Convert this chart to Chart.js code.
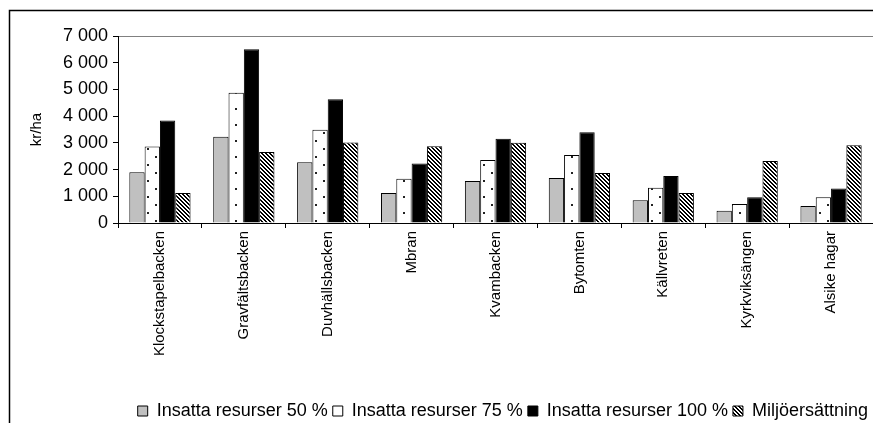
<!DOCTYPE html>
<html><head><meta charset="utf-8">
<script src="https://cdn.jsdelivr.net/npm/chart.js"></script>
<style>html,body{margin:0;padding:0;background:#fff;}#wrap{width:873px;height:423px;position:relative;}</style>
</head><body><div id="wrap"><canvas id="c" width="873" height="423"></canvas></div>
<script>
const categories = ['Klockstapelbacken','Gravfältsbacken','Duvhällsbacken','Mbran','Kvambacken','Bytomten','Källvreten','Kyrkviksängen','Alsike hagar'];
const seriesNames = ['Insatta resurser 50 %','Insatta resurser 75 %','Insatta resurser 100 %','Miljöersättning'];
const values50  = [1900,3230,2270,1120,1570,1680,850,460,640];
const values75  = [2860,4880,3490,1660,2360,2550,1320,715,965];
const values100 = [3840,6500,4630,2230,3150,3400,1760,965,1290];
const valuesEnv = [1120,2660,3010,2870,3000,1870,1120,2320,2910];
const yTickValues = [0,1000,2000,3000,4000,5000,6000,7000];
const yTickLabels = ['0','1 000','2 000','3 000','4 000','5 000','6 000','7 000'];
const yTitle = 'kr/ha';

function dotPattern(){
  const t=document.createElement('canvas'); t.width=16; t.height=16;
  const g=t.getContext('2d'); g.fillStyle='#fff'; g.fillRect(0,0,16,16);
  g.fillStyle='#222'; g.fillRect(3,4,2,2); g.fillRect(11,12,2,2);
  return g.createPattern(t,'repeat');
}
function hatchPattern(){
  const t=document.createElement('canvas'); t.width=4; t.height=4;
  const g=t.getContext('2d'); g.fillStyle='#fff'; g.fillRect(0,0,4,4);
  g.fillStyle='#000';
  for(let i=0;i<4;i++){ g.fillRect(i,i,1,1); g.fillRect((i+1)%4,i,1,1); }
  return g.createPattern(t,'repeat');
}
const ctx0=document.getElementById('c').getContext('2d');
const fills=['#c0c0c0',dotPattern(),'#000',hatchPattern()];
const allValues=[values50,values75,values100,valuesEnv];

const framePlugin={id:'frame',
  beforeDraw(chart){const c=chart.ctx;c.save();c.fillStyle='#fff';c.fillRect(0,0,chart.width,chart.height);c.restore();},
  afterDraw(chart){const c=chart.ctx;c.save();c.strokeStyle='#000';c.lineWidth=1.5;c.strokeRect(9.5,10.5,1000,1000);c.restore();}
};

Chart.defaults.color='#000';
Chart.defaults.font.family='"Liberation Sans", Arial, sans-serif';

new Chart(ctx0,{
  type:'bar',
  data:{labels:categories,datasets:seriesNames.map((n,i)=>({label:n,data:allValues[i],backgroundColor:fills[i],borderColor:'#000',borderWidth:1,categoryPercentage:0.73,barPercentage:1.0}))},
  options:{responsive:false,devicePixelRatio:1,animation:false,
    layout:{padding:{top:36,left:24,right:0,bottom:-7}},
    plugins:{legend:{position:'bottom',align:'end',labels:{boxWidth:10,boxHeight:10,padding:5,font:{size:18},color:'#000'}},tooltip:{enabled:false}},
    scales:{
      x:{offset:true,grid:{offset:true,drawOnChartArea:false,tickLength:5,tickColor:'#000',color:'#000'},border:{color:'#000',width:1},
        ticks:{maxRotation:90,minRotation:90,autoSkip:false,padding:3,font:{size:15},color:'#000'},
        afterFit(s){s.height=174;}},
      y:{min:0,max:7000,afterBuildTicks(s){s.ticks=yTickValues.map(v=>({value:v}));},
        grid:{tickLength:5,tickColor:'#000',color:(c)=>c.tick&&c.tick.value===7000?'#808080':'rgba(0,0,0,0)'},
        border:{color:'#000',width:1},
        ticks:{padding:5,font:{size:18},color:'#000',callback:(v)=>yTickLabels[yTickValues.indexOf(v)]},
        title:{display:true,text:yTitle,font:{size:15},color:'#000'},
        afterFit(s){s.width=94;}}
    }},
  plugins:[framePlugin]
});
</script></body></html>
